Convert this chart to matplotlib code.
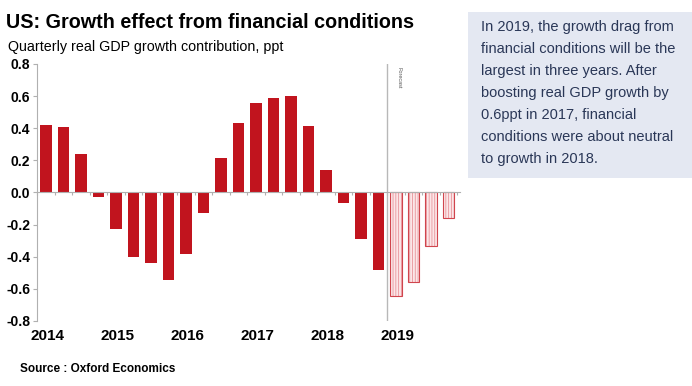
import numpy as np
import matplotlib.pyplot as plt
from matplotlib.patches import Rectangle

plt.rcParams['font.family'] = ['Liberation Sans', 'DejaVu Sans']
plt.rcParams['hatch.linewidth'] = 0.6

# Datos trimestrales (contribucion al crecimiento del PIB real, ppt)
quarters = ['2014Q1', '2014Q2', '2014Q3', '2014Q4',
            '2015Q1', '2015Q2', '2015Q3', '2015Q4',
            '2016Q1', '2016Q2', '2016Q3', '2016Q4',
            '2017Q1', '2017Q2', '2017Q3', '2017Q4',
            '2018Q1', '2018Q2', '2018Q3', '2018Q4',
            '2019Q1', '2019Q2', '2019Q3', '2019Q4']
values = [0.42, 0.405, 0.24, -0.025,
          -0.23, -0.40, -0.44, -0.545,
          -0.38, -0.125, 0.215, 0.43,
          0.555, 0.59, 0.598, 0.415,
          0.14, -0.065, -0.29, -0.48,
          -0.645, -0.555, -0.335, -0.16]
forecast = [False] * 20 + [True] * 4
years = ['2014', '2015', '2016', '2017', '2018', '2019']
yticks = [0.8, 0.6, 0.4, 0.2, 0.0, -0.2, -0.4, -0.6, -0.8]

red = '#c1141e'

fig = plt.figure(figsize=(6.92, 3.86), dpi=100)
ax = fig.add_axes([37 / 692, 1 - 321 / 386, (460 - 37) / 692, (321 - 64) / 386])

x = np.arange(len(values))
for i in range(len(values)):
    if forecast[i]:
        # relleno rayado claro y contorno rojo
        ax.bar(x[i], values[i], width=0.66, color='#fbe6e8', edgecolor='#e9949a',
               hatch='||||||', linewidth=0)
        ax.bar(x[i], values[i], width=0.66, fill=False, edgecolor='#d0454d',
               linewidth=0.8)
    else:
        ax.bar(x[i], values[i], width=0.66, color=red, linewidth=0)

ax.set_xlim(-0.51, 23.65)
ax.set_ylim(-0.8, 0.8)

# Ejes
for s in ['top', 'right']:
    ax.spines[s].set_visible(False)
ax.spines['left'].set_color('#b0b0b0')
ax.spines['bottom'].set_color('#b0b0b0')
ax.spines['bottom'].set_position(('data', 0))
ax.set_yticks(yticks)
ax.set_yticklabels(['%.1f' % v for v in yticks], fontsize=10, fontweight='bold')
ax.tick_params(axis='y', direction='out', length=3, color='#b0b0b0', pad=2)
ax.set_xticks(np.arange(-0.5, 24, 1.0))
ax.tick_params(axis='x', direction='out', length=2.5, color='#b0b0b0', labelbottom=False)

secax = ax.secondary_xaxis(0)
secax.set_xticks(np.arange(0, 24, 4) + 0.1)
secax.set_xticklabels(years, fontsize=11, fontweight='bold')
secax.tick_params(length=0, pad=6)
secax.spines['bottom'].set_visible(False)

# Linea de inicio del pronostico
ax.axvline(19.5, color='#b8b8b8', linewidth=1)
ax.text(20.05, 0.78, 'Forecast', rotation=270, fontsize=4, va='top', ha='left',
        color='#555555')

# Titulos
fig.text(6 / 692, 1 - 22 / 386, 'US: Growth effect from financial conditions',
         fontsize=14.2, fontweight='bold', va='center', ha='left')
fig.text(8 / 692, 1 - 47 / 386, 'Quarterly real GDP growth contribution, ppt',
         fontsize=10.3, va='center', ha='left')
fig.text(20 / 692, 1 - 369 / 386, 'Source : Oxford Economics',
         fontsize=8.5, fontweight='bold', va='center', ha='left')

# Cuadro de comentario
fig.patches.append(Rectangle((468 / 692, 1 - 178 / 386), 224 / 692, 166 / 386,
                             transform=fig.transFigure, facecolor='#e4e8f2',
                             edgecolor='none', zorder=0))
comment = ['In 2019, the growth drag from',
           'financial conditions will be the',
           'largest in three years. After',
           'boosting real GDP growth by',
           '0.6ppt in 2017, financial',
           'conditions were about neutral',
           'to growth in 2018.']
for k, line in enumerate(comment):
    fig.text(481 / 692, 1 - (27 + 22 * k) / 386, line, fontsize=10.5,
             color='#2a3757', va='center', ha='left')

fig.savefig('out.png', dpi=100)
